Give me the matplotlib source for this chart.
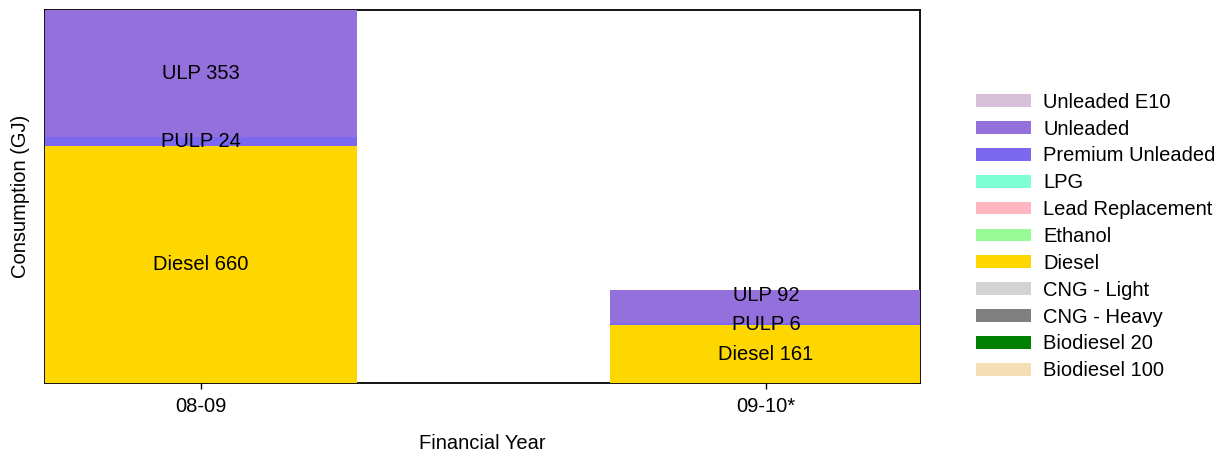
import matplotlib.pyplot as plt
from matplotlib.patches import Patch

plt.rcParams['font.family'] = ['Liberation Sans', 'DejaVu Sans']

years = ['08-09', '09-10*']
diesel = [660, 161]
pulp = [24, 6]
ulp = [353, 92]

legend_labels = ['Unleaded E10', 'Unleaded', 'Premium Unleaded', 'LPG', 'Lead Replacement',
                 'Ethanol', 'Diesel', 'CNG - Light', 'CNG - Heavy', 'Biodiesel 20', 'Biodiesel 100']
legend_colors = ['#D8BFD8', '#9370DB', '#7B68EE', '#7FFFD4', '#FFB6C1',
                 '#98FB98', '#FFD700', '#D3D3D3', '#808080', '#008000', '#F5DEB3']

fs = 14.5
fig = plt.figure(figsize=(12.21, 4.55), dpi=100)
ax = fig.add_axes([45 / 1221, 1 - 383 / 455, (920 - 45) / 1221, (383 - 10) / 455])

x = [0, 1]
w = 0.552
segments = [('Diesel', diesel, '#FFD700'), ('PULP', pulp, '#7B68EE'), ('ULP', ulp, '#9370DB')]

bottoms = [0, 0]
last_label = [None, None]
gap = 80  # keep stacked labels apart on thin segments
for name, vals, col in segments:
    ax.bar(x, vals, w, bottom=bottoms, color=col, edgecolor='none', zorder=3)
    for i in range(len(x)):
        yc = bottoms[i] + vals[i] / 2
        if last_label[i] is not None and yc < last_label[i] + gap:
            yc = last_label[i] + gap
        last_label[i] = yc
        ax.text(x[i], yc, f'{name} {vals[i]}', ha='center', va='center', fontsize=fs, zorder=4)
    bottoms = [b + v for b, v in zip(bottoms, vals)]

# right side is a bit tighter, the last bar gets clipped by the frame
ax.set_xlim(-w / 2, 1.2726)
ax.set_ylim(0, max(bottoms))
ax.set_xticks(x)
ax.set_xticklabels(years, fontsize=fs)
ax.set_yticks([])
ax.tick_params(axis='x', length=4, width=1, pad=6)
for s in ax.spines.values():
    s.set_linewidth(1.3)
    s.set_zorder(2)
ax.set_xlabel('Financial Year', fontsize=fs, labelpad=13)
ax.set_ylabel('Consumption (GJ)', fontsize=fs, labelpad=11)

handles = [Patch(facecolor=c, edgecolor='none') for c in legend_colors]
fig.legend(handles, legend_labels, loc='center left', bbox_to_anchor=(976 / 1221, 1 - 236.5 / 455),
           frameon=False, fontsize=fs, handlelength=2.75, handleheight=0.6, labelspacing=0.39,
           handletextpad=0.6, borderpad=0, borderaxespad=0)

fig.savefig('out.png', dpi=100)
